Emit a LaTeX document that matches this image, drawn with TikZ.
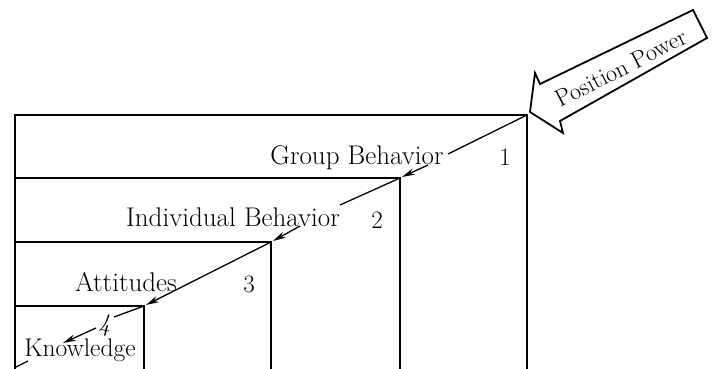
\documentclass[tikz,border=0pt]{standalone}
\usetikzlibrary{arrows.meta}
\begin{document}
\begin{tikzpicture}[x=1pt,y=-1pt,
  boxline/.style={line width=1.4pt},
  conn/.style={line width=1.3pt},
  arr/.style={conn,-{Stealth[length=13pt,width=6.5pt]}},
  lbl/.style={font=\fontsize{27}{30}\selectfont, inner sep=0pt, anchor=base},
  num/.style={font=\fontsize{25}{28}\selectfont, inner sep=0pt, anchor=base}]
\useasboundingbox (0,0) rectangle (715,369);
% corners
\coordinate (c1) at (527,115);
\coordinate (c2) at (400,178);
\coordinate (c3) at (271,242);
\coordinate (c4) at (144,306);
% boxes
\draw[boxline] (15,369) -- (15,115) -- (c1) -- (527,369);
\draw[boxline] (15,178) -- (c2) -- (400,369);
\draw[boxline] (15,242) -- (c3) -- (271,369);
\draw[boxline] (15,306) -- (c4) -- (144,369);
% labels
\node[lbl] (gb) at (357,164) {Group Behavior};
\node[num] (n1) at (505,165) {1};
\node[lbl] (ib) at (233,226) {Individual Behavior};
\node[num] (n2) at (377,228) {2};
\node[lbl] (at) at (126,291) {Attitudes};
\node[num] (n3) at (249,292) {3};
\node[num] (n4) at (104,331) {\textit{4}};
\node[lbl, font=\fontsize{25.5}{28}\selectfont] (kn) at (80,356) {Knowledge};
% connector pieces
\coordinate (t1) at (448,154);
\coordinate (s1) at (428,165);
\coordinate (e1) at (402,177);
\coordinate (t2) at (340,205);
\coordinate (s2) at (300,226);
\coordinate (e2) at (273,241);
\coordinate (e3) at (146,305);
\coordinate (t4) at (114,317);
\coordinate (s4) at (96,328);
\coordinate (e4) at (63,343);
\coordinate (u1) at (28,361);
\coordinate (u2) at (16,367);
\draw[conn] (c1) -- (t1);
\draw[arr] (s1) -- (e1);
\draw[conn] (c2) -- (t2);
\draw[arr] (s2) -- (e2);
\draw[arr] (c3) -- (e3);
\draw[conn] (c4) -- (t4);
\draw[arr] (s4) -- (e4);
\draw[conn] (u1) -- (u2);
% Position Power arrow
\draw[line width=1.8pt, line join=miter, fill=white]
  (530,112) -- (535,73) -- (540,84) -- (693,10) -- (707,38) -- (560,121) -- (563,133) -- cycle;
\node[font=\fontsize{24}{28}\selectfont, inner sep=0pt, rotate=27] (pp) at (621,68) {Position Power};
\end{tikzpicture}
\end{document}
